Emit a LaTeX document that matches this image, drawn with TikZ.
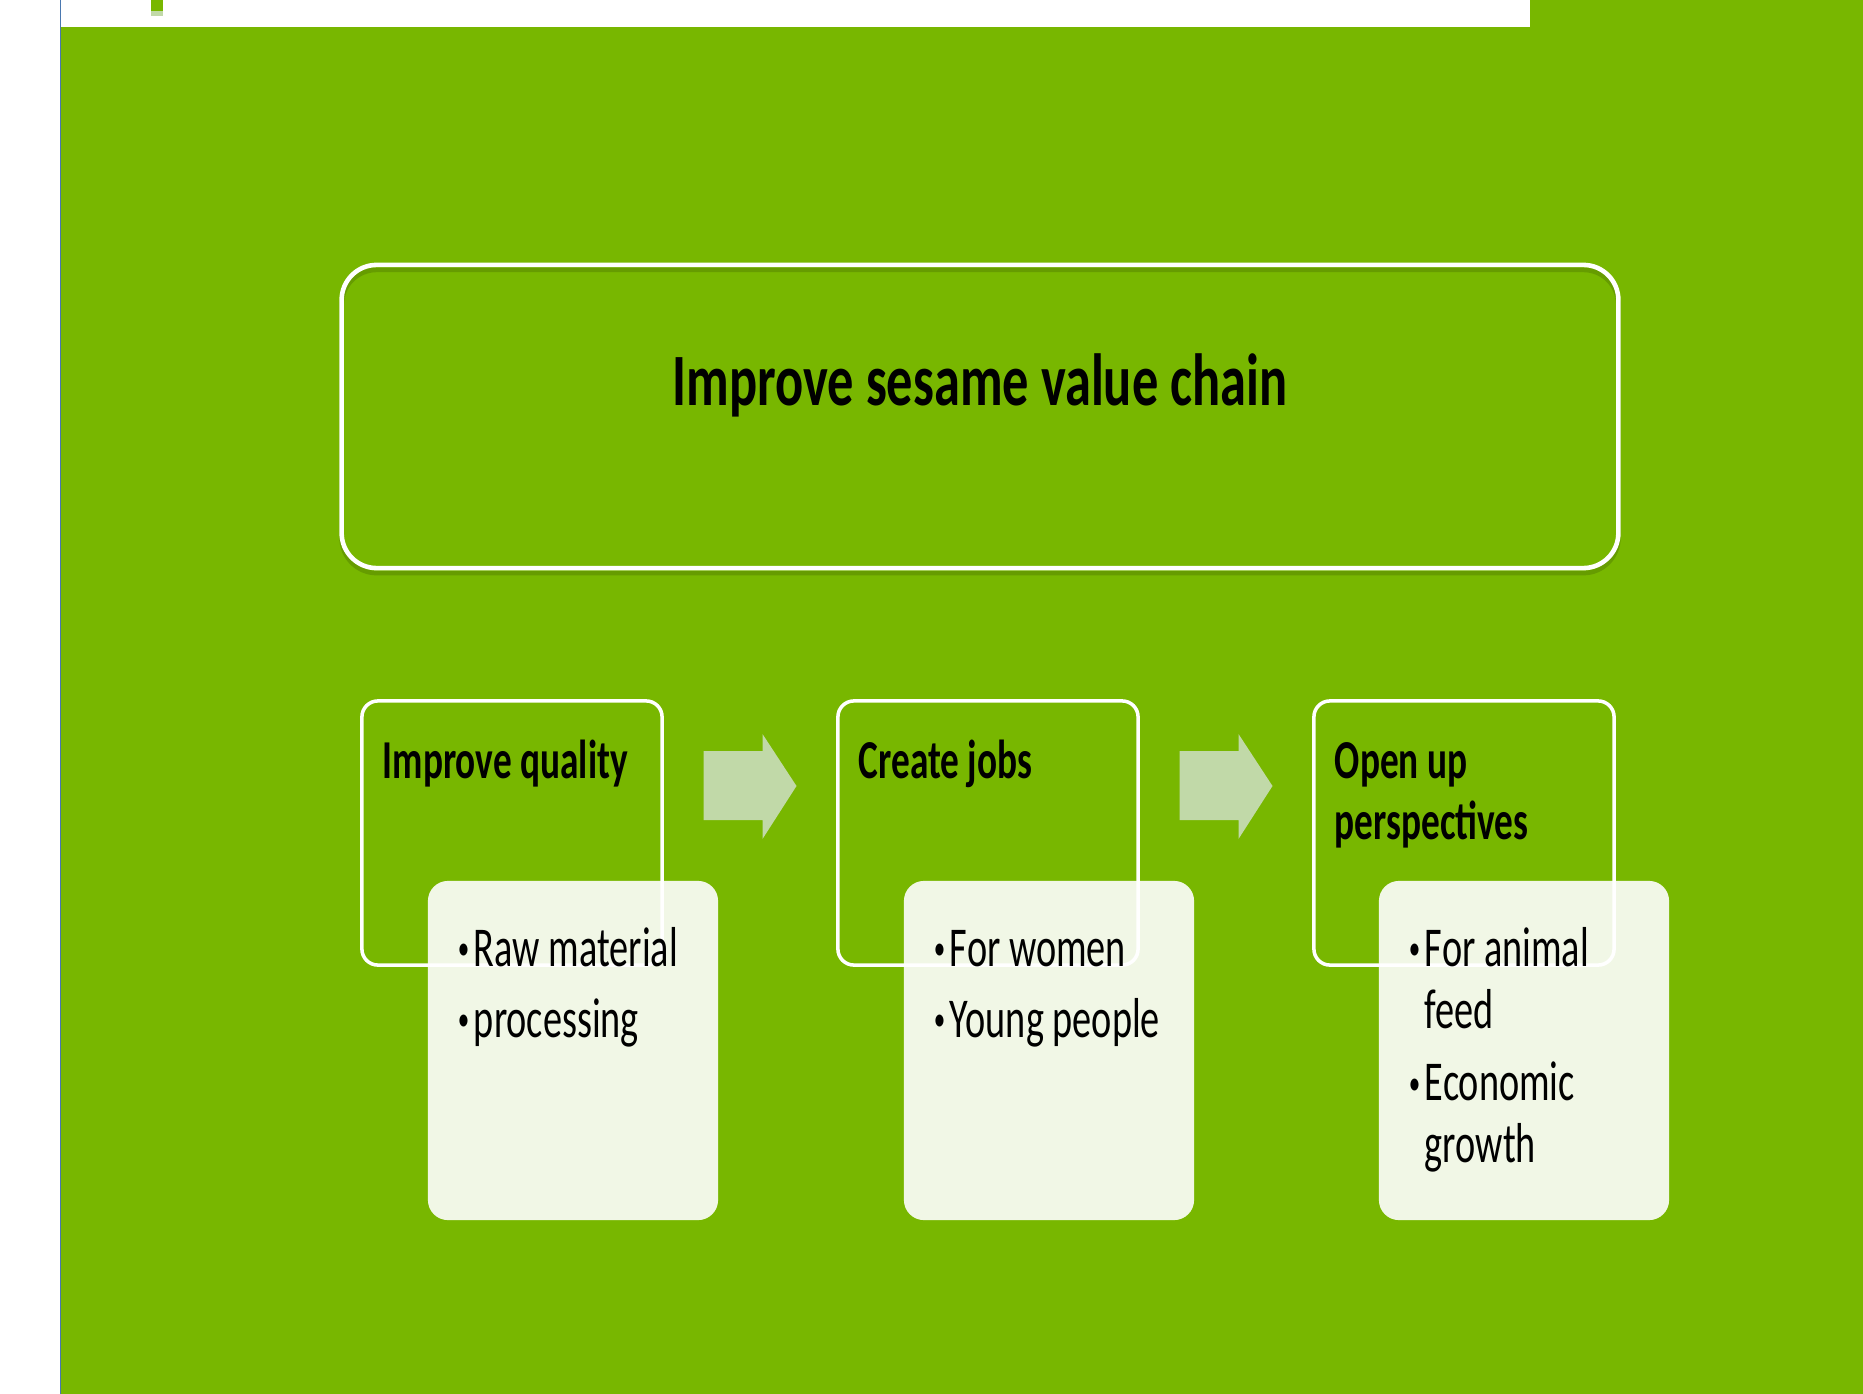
\documentclass[tikz,border=0pt]{standalone}
\usepackage{fontspec}
\setmainfont{Carlito}[FakeStretch=0.68]
\newfontfamily\chainfont{Carlito}[FakeStretch=0.71]
\usetikzlibrary{calc}
\definecolor{slidegreen}{RGB}{120,183,0}
\definecolor{shadegreen}{RGB}{90,138,0}
\definecolor{arrowgreen}{RGB}{193,217,168}
\definecolor{rulerblue}{RGB}{74,120,176}
\newcommand\itemdot{\makebox[0.16cm][l]{\raisebox{0.12em}{\scalebox{0.6}{\textbullet}}}}
\newcommand\itemgap{\hspace*{0.16cm}}
\begin{document}
\begin{tikzpicture}[x=0.01cm,y=-0.01cm,
  mainbox/.style={draw=white,line width=1.3pt,rounded corners=0.35cm,minimum width=12.76cm,minimum height=3.03cm},
  headbox/.style={draw=white,line width=1pt,rounded corners=0.16cm,minimum width=3cm,minimum height=2.64cm},
  itembox/.style={fill=white,fill opacity=0.9,rounded corners=0.2cm,minimum width=2.9cm,minimum height=3.39cm},
  headtxt/.style={anchor=north west,inner sep=0pt,align=left,font=\fontsize{15.6pt}{17.4pt}\selectfont\bfseries},
  itemtxt/.style={anchor=north west,inner sep=0pt,align=left,font=\fontsize{16pt}{17.6pt}\selectfont}]
\useasboundingbox (0,0) rectangle (1863,1394);
\fill[white] (0,0) rectangle (1863,1394);
\fill[slidegreen] (61,0) rectangle (1863,1394);
\fill[white] (61,0) rectangle (1530,27);
\fill[slidegreen] (151,0) rectangle (163,11);
\fill[arrowgreen] (151,11) rectangle (163,16);
\draw[rulerblue,line width=0.5pt] (60.5,0) -- (60.5,1394);

\node[mainbox,draw=shadegreen,opacity=0.6] (chainshade) at (980,421.5) {};
\node[mainbox] (chain) at (980,416.5) {};
\node[anchor=base,font=\fontsize{21pt}{24pt}\selectfont\chainfont\bfseries] (chaintxt) at ($(chain.center)+(0,-10.5)$) {Improve sesame value chain};

\node[headbox] (quality) at (512,833) {};
\node[headbox] (jobs) at (988,833) {};
\node[headbox] (persp) at (1464,833) {};

\node[headtxt] (qualitytxt) at ($(quality.north west)+(22,36)$) {\strut Improve quality};
\node[headtxt] (jobstxt) at ($(jobs.north west)+(22,36)$) {\strut Create jobs};
\node[headtxt] (persptxt) at ($(persp.north west)+(22,36)$) {\strut Open up\\perspectives};

\node[itembox] (qualityitems) at (573,1050.5) {};
\node[itembox] (jobsitems) at (1049,1050.5) {};
\node[itembox] (perspitems) at (1524,1050.5) {};

\node[itemtxt] (qualitylist) at ($(qualityitems.north west)+(30,42)$) {\strut\itemdot Raw material\\[2.6pt]\itemdot processing};
\node[itemtxt] (jobslist) at ($(jobsitems.north west)+(30,42)$) {\strut\itemdot For women\\[2.6pt]\itemdot Young people};
\node[itemtxt] (persplist) at ($(perspitems.north west)+(30,42)$) {\strut\itemdot For animal\\\itemgap feed\\[3.1pt]\itemdot Economic\\\itemgap growth};

\coordinate (m1) at ($(quality.east)!0.5!(jobs.west)$);
\coordinate (m2) at ($(jobs.east)!0.5!(persp.west)$);
\fill[arrowgreen,shift={(m1)}] (-46.5,-82) -- (12.5,-82) -- (12.5,-99) -- (46.5,-47) -- (12.5,6) -- (12.5,-13) -- (-46.5,-13) -- cycle;
\fill[arrowgreen,shift={(m2)}] (-46.5,-82) -- (12.5,-82) -- (12.5,-99) -- (46.5,-47) -- (12.5,6) -- (12.5,-13) -- (-46.5,-13) -- cycle;
\end{tikzpicture}
\end{document}
